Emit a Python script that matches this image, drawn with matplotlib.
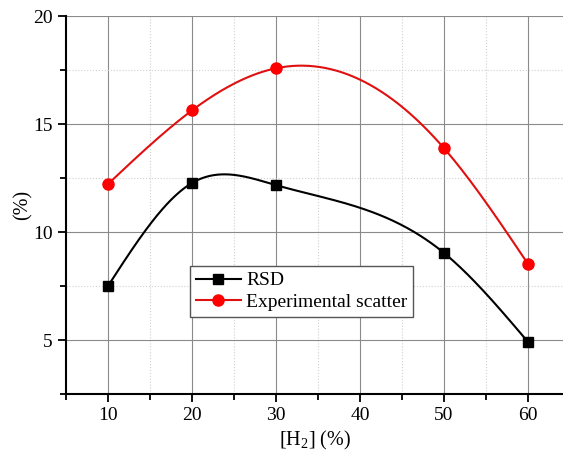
import numpy as np
import matplotlib
matplotlib.use("Agg")
import matplotlib.pyplot as plt
from matplotlib.ticker import MultipleLocator

# values
h2 = [10, 20, 30, 50, 60]
rsd = [7.5, 12.27, 12.17, 9.03, 4.91]
scatter = [12.22, 15.63, 17.58, 13.88, 8.52]


def spline(x, y, n=300):
    # natural cubic spline, just for drawing the connecting line
    x = np.asarray(x, float)
    y = np.asarray(y, float)
    k = len(x)
    h = np.diff(x)
    A = np.zeros((k, k))
    b = np.zeros(k)
    A[0, 0] = A[-1, -1] = 1
    for i in range(1, k - 1):
        A[i, i - 1] = h[i - 1]
        A[i, i] = 2 * (h[i - 1] + h[i])
        A[i, i + 1] = h[i]
        b[i] = 6 * ((y[i + 1] - y[i]) / h[i] - (y[i] - y[i - 1]) / h[i - 1])
    M = np.linalg.solve(A, b)
    xs = np.linspace(x[0], x[-1], n)
    idx = np.clip(np.searchsorted(x, xs) - 1, 0, k - 2)
    x0, x1 = x[idx], x[idx + 1]
    hh = x1 - x0
    t0, t1 = x1 - xs, xs - x0
    ys = (M[idx] * t0 ** 3 + M[idx + 1] * t1 ** 3) / (6 * hh) \
        + (y[idx] / hh - M[idx] * hh / 6) * t0 \
        + (y[idx + 1] / hh - M[idx + 1] * hh / 6) * t1
    return xs, ys


plt.rcParams['font.family'] = ['Liberation Serif', 'DejaVu Serif']
plt.rcParams['mathtext.fontset'] = 'custom'
plt.rcParams['mathtext.rm'] = 'Liberation Serif'

fig = plt.figure(figsize=(5.63, 4.61), dpi=100)
ax = fig.add_axes([66 / 563, 67 / 461, 497 / 563, 378 / 461])

ax.set_xlim(5, 5 + 497 / 8.4)
ax.set_ylim(2.5, 20)

ax.xaxis.set_major_locator(MultipleLocator(10))
ax.xaxis.set_minor_locator(MultipleLocator(5))
ax.yaxis.set_major_locator(MultipleLocator(5))
ax.yaxis.set_minor_locator(MultipleLocator(2.5))

ax.grid(which='major', color='#8a8a8a', linewidth=0.8)
ax.grid(which='minor', color='#d0d0d0', linewidth=0.8, linestyle=':')
ax.set_axisbelow(True)

for s in ['top', 'right']:
    ax.spines[s].set_visible(False)
for s in ['left', 'bottom']:
    ax.spines[s].set_linewidth(1.5)

ax.tick_params(which='both', direction='out', width=1.3, labelsize=14)
ax.tick_params(which='major', length=6)
ax.tick_params(which='minor', length=4)

xs, ys = spline(h2, rsd)
ax.plot(xs, ys, color='black', linewidth=1.5)
ax.plot(h2, rsd, 's', color='black', markersize=7)
ax.plot([], [], '-s', color='black', linewidth=1.5, markersize=7, label='RSD')

xs, ys = spline(h2, scatter)
ax.plot(xs, ys, color='#e01010', linewidth=1.5)
ax.plot(h2, scatter, 'o', color='red', markersize=8)
ax.plot([], [], '-o', color='#e01010', markerfacecolor='red', markeredgecolor='red',
        linewidth=1.5, markersize=8, label='Experimental scatter')

leg = ax.legend(loc='upper left', bbox_to_anchor=(124 / 497, 128 / 378), fontsize=14,
                fancybox=False, framealpha=1, edgecolor='#555555',
                handlelength=2.3, borderpad=0.3, labelspacing=0.2, handletextpad=0.3,
                borderaxespad=0)
leg.get_frame().set_linewidth(1.0)

ax.set_xlabel('[H$_2$] (%)', fontsize=14.5)
ax.set_ylabel('(%)', fontsize=14.5)
ax.xaxis.set_label_coords(0.5, -0.093)
ax.yaxis.set_label_coords(-0.068, 0.5)

fig.canvas.draw()
# no horizontal grid line along the top edge
ax.get_ygridlines()[-1].set_visible(False)

fig.savefig('out.png', dpi=100)
